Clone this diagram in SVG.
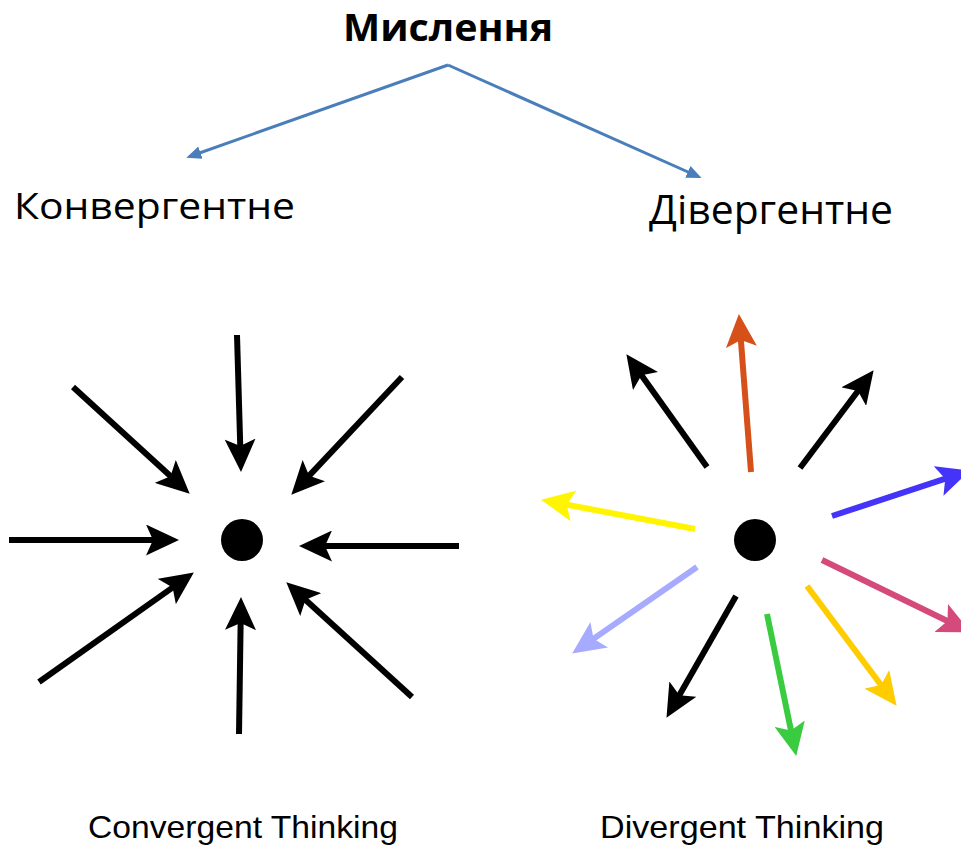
<svg xmlns="http://www.w3.org/2000/svg" width="961" height="847" viewBox="0 0 961 847">
<style>
.t{font-family:"Liberation Sans",Arial,sans-serif;fill:#000}
.ua{font-family:"Open Sans","Liberation Sans",sans-serif;fill:#000}
.blue{stroke:#4a7ebb;stroke-width:3;fill:none}
.a{stroke-width:6;fill:none;stroke-linecap:butt}
</style>
<defs>
<marker id="mb" markerUnits="userSpaceOnUse" viewBox="0 0 15 13" refX="10" refY="6.5" markerWidth="15" markerHeight="13" orient="auto"><path d="M0,0 L15,6.5 L0,13 Z" fill="#4a7ebb"/></marker>
<marker id="m-k" markerUnits="userSpaceOnUse" viewBox="0 0 33 31" refX="12" refY="15.5" markerWidth="33" markerHeight="31" orient="auto"><path d="M0,0 L33,15.5 L0,31 L7,15.5 Z" fill="#000"/></marker>
<marker id="m-o" markerUnits="userSpaceOnUse" viewBox="0 0 33 31" refX="12" refY="15.5" markerWidth="33" markerHeight="31" orient="auto"><path d="M0,0 L33,15.5 L0,31 L7,15.5 Z" fill="#d6501a"/></marker>
<marker id="m-b" markerUnits="userSpaceOnUse" viewBox="0 0 33 31" refX="12" refY="15.5" markerWidth="33" markerHeight="31" orient="auto"><path d="M0,0 L33,15.5 L0,31 L7,15.5 Z" fill="#4433f8"/></marker>
<marker id="m-y" markerUnits="userSpaceOnUse" viewBox="0 0 33 31" refX="12" refY="15.5" markerWidth="33" markerHeight="31" orient="auto"><path d="M0,0 L33,15.5 L0,31 L7,15.5 Z" fill="#fff500"/></marker>
<marker id="m-p" markerUnits="userSpaceOnUse" viewBox="0 0 33 31" refX="12" refY="15.5" markerWidth="33" markerHeight="31" orient="auto"><path d="M0,0 L33,15.5 L0,31 L7,15.5 Z" fill="#d44a7a"/></marker>
<marker id="m-l" markerUnits="userSpaceOnUse" viewBox="0 0 33 31" refX="12" refY="15.5" markerWidth="33" markerHeight="31" orient="auto"><path d="M0,0 L33,15.5 L0,31 L7,15.5 Z" fill="#a6abff"/></marker>
<marker id="m-g" markerUnits="userSpaceOnUse" viewBox="0 0 33 31" refX="12" refY="15.5" markerWidth="33" markerHeight="31" orient="auto"><path d="M0,0 L33,15.5 L0,31 L7,15.5 Z" fill="#3acc40"/></marker>
<marker id="m-d" markerUnits="userSpaceOnUse" viewBox="0 0 33 31" refX="12" refY="15.5" markerWidth="33" markerHeight="31" orient="auto"><path d="M0,0 L33,15.5 L0,31 L7,15.5 Z" fill="#ffcc00"/></marker>
</defs>
<rect width="961" height="847" fill="#fff"/>

<g id="node-myslennia"><text class="ua" x="448" y="41" font-size="38" font-weight="bold" text-anchor="middle" textLength="210" lengthAdjust="spacingAndGlyphs">Мислення</text></g>
<g id="node-konverhentne"><text class="ua" x="14" y="219" font-size="37" textLength="281" lengthAdjust="spacingAndGlyphs">Конвергентне</text></g>
<g id="node-diverhentne"><text class="ua" x="649" y="224" font-size="40" textLength="244" lengthAdjust="spacingAndGlyphs">Дівергентне</text></g>

<g id="connectors">
<line class="blue" x1="448" y1="65" x2="191" y2="156" marker-end="url(#mb)"/>
<line class="blue" x1="448" y1="65" x2="697" y2="176" marker-end="url(#mb)"/>
</g>

<g id="convergent">
<circle cx="242" cy="540" r="21" fill="#000"/>
<g class="a" stroke="#000">
<line x1="237" y1="335" x2="240.4" y2="451" marker-end="url(#m-k)"/>
<line x1="73" y1="387" x2="174.2" y2="479.5" marker-end="url(#m-k)"/>
<line x1="402" y1="377" x2="305.7" y2="479.4" marker-end="url(#m-k)"/>
<line x1="9" y1="540" x2="158" y2="540" marker-end="url(#m-k)"/>
<line x1="459" y1="546" x2="320" y2="546" marker-end="url(#m-k)"/>
<line x1="39" y1="682" x2="176.7" y2="584.6" marker-end="url(#m-k)"/>
<line x1="239" y1="734" x2="240.7" y2="618" marker-end="url(#m-k)"/>
<line x1="412" y1="697" x2="301.8" y2="596.5" marker-end="url(#m-k)"/>
</g>
<text class="t" x="243" y="838" font-size="32" text-anchor="middle" textLength="310" lengthAdjust="spacingAndGlyphs">Convergent Thinking</text>
</g>

<g id="divergent">
<circle cx="755" cy="540" r="21" fill="#000"/>
<g class="a">
<line stroke="#d6501a" x1="751" y1="472" x2="740.5" y2="334.9" marker-end="url(#m-o)"/>
<line stroke="#000" x1="707" y1="467" x2="638.6" y2="371.3" marker-end="url(#m-k)"/>
<line stroke="#000" x1="800" y1="468" x2="861" y2="387" marker-end="url(#m-k)"/>
<line stroke="#4433f8" x1="832" y1="516" x2="950" y2="477.2" marker-end="url(#m-b)"/>
<line stroke="#fff500" x1="695" y1="529" x2="561.7" y2="503.7" marker-end="url(#m-y)"/>
<line stroke="#d44a7a" x1="822" y1="560" x2="952" y2="623.3" marker-end="url(#m-p)"/>
<line stroke="#a6abff" x1="697" y1="567" x2="589.4" y2="641.6" marker-end="url(#m-l)"/>
<line stroke="#000" x1="736" y1="596" x2="676.9" y2="699.6" marker-end="url(#m-k)"/>
<line stroke="#3acc40" x1="767" y1="614" x2="792" y2="735.4" marker-end="url(#m-g)"/>
<line stroke="#ffcc00" x1="807" y1="586" x2="884" y2="689" marker-end="url(#m-d)"/>
</g>
<text class="t" x="742" y="838" font-size="32" text-anchor="middle" textLength="284" lengthAdjust="spacingAndGlyphs">Divergent Thinking</text>
</g>
</svg>
